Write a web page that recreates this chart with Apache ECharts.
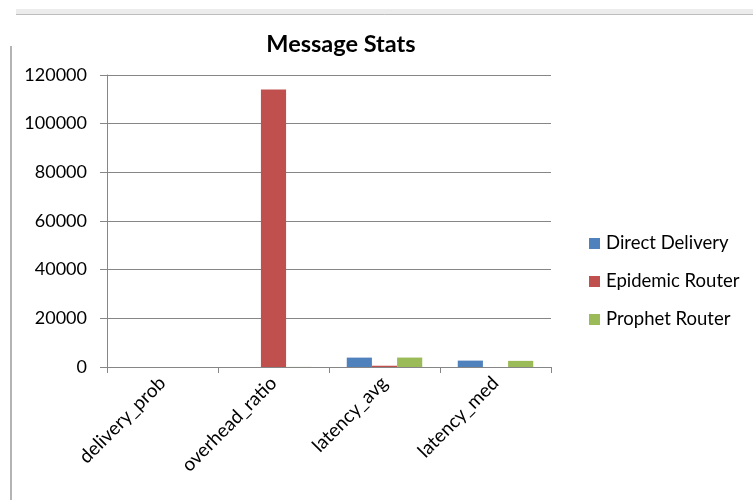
<!DOCTYPE html>
<html><head><meta charset="utf-8">
<script src="https://cdn.jsdelivr.net/npm/echarts@6/dist/echarts.min.js"></script>
<style>html,body{margin:0;padding:0;background:#fff}#c{width:753px;height:501px}</style>
</head><body><div id="c"></div>
<script>
const categories = ['delivery_prob', 'overhead_ratio', 'latency_avg', 'latency_med'];
const directDelivery = [0.3, 0, 3860, 2630];
const epidemicRouter = [0.5, 114000, 520, 0];
const prophetRouter = [0.6, 40, 3880, 2520];
const yTicks = [0, 20000, 40000, 60000, 80000, 100000, 120000];

const font = 'Lato, "Open Sans", sans-serif';
const chart = echarts.init(document.getElementById('c'), null, {renderer: 'canvas'});
const mk = (name, data, color) => ({
  name, type: 'bar', data, barGap: '0%', barCategoryGap: '32%',
  itemStyle: {color}, animation: false
});
chart.setOption({
  animation: false,
  backgroundColor: '#fff',
  title: {
    text: 'Message Stats', left: 336, top: 27, textAlign: 'center',
    textStyle: {fontFamily: font, fontSize: 23.5, fontWeight: 'bold', color: '#000'}
  },
  legend: {
    orient: 'vertical', left: 584, top: 229,
    itemWidth: 11, itemHeight: 11, itemGap: 19,
    icon: 'rect',
    textStyle: {fontFamily: font, fontSize: 18.5, color: '#000', padding: [0, 0, 0, 1]},
    data: ['Direct Delivery', 'Epidemic Router', 'Prophet Router']
  },
  grid: {left: 107, right: 202, top: 75, bottom: 134, containLabel: false},
  xAxis: {
    type: 'category', data: categories,
    axisLine: {lineStyle: {color: '#868686', width: 1}},
    axisTick: {show: true, length: 6, lineStyle: {color: '#868686'}},
    axisLabel: {rotate: 45, margin: 13, fontFamily: font, fontSize: 19, color: '#000', interval: 0}
  },
  yAxis: {
    type: 'value', min: 0, max: 120000, interval: 20000,
    axisLine: {show: true, lineStyle: {color: '#868686', width: 1}},
    axisTick: {show: true, length: 7, lineStyle: {color: '#868686'}},
    splitLine: {lineStyle: {color: '#868686', width: 1}},
    axisLabel: {margin: 20, fontFamily: font, fontSize: 18, color: '#000',
      formatter: v => yTicks.includes(v) ? String(v) : ''}
  },
  graphic: [
    {type: 'rect', shape: {x: 16, y: 9, width: 737, height: 6}, style: {fill: '#ececec'}, silent: true},
    {type: 'line', shape: {x1: 16, y1: 14.5, x2: 753, y2: 14.5}, style: {stroke: '#bdbdbd', lineWidth: 1}, silent: true},
    {type: 'rect', shape: {x: 10, y: 46, width: 2, height: 454}, style: {fill: '#b4b4b4'}, silent: true}
  ],
  series: [
    mk('Direct Delivery', directDelivery, '#4F81BD'),
    mk('Epidemic Router', epidemicRouter, '#C0504D'),
    mk('Prophet Router', prophetRouter, '#9BBB59')
  ]
});
</script></body></html>
